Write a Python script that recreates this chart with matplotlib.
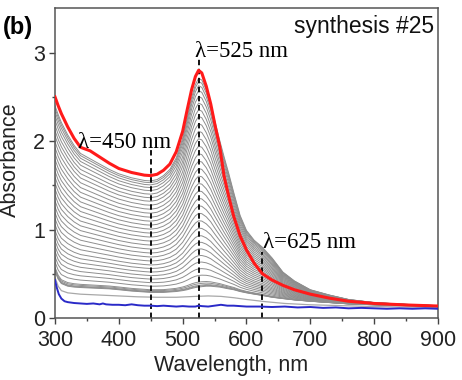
"""Absorbance spectra recorded during synthesis #25."""

from __future__ import annotations

import numpy as np
from matplotlib import pyplot as plt


# common wavelength grid (nm) for the grey family
WAVELENGTH = [
    300, 305, 310, 320, 330, 340, 355, 370, 385, 400, 420, 440, 450, 460, 470,
    480, 490, 500, 507, 514, 520, 525, 530, 537, 544, 551, 558, 565, 572, 580,
    590, 600, 612, 625, 640, 657, 675, 700, 730, 760, 800, 850, 900,
]

# final spectrum (red)
FINAL_ABS = [
    2.50, 2.40, 2.31, 2.16, 2.03, 1.93, 1.89, 1.82, 1.75, 1.69, 1.645, 1.615, 1.61,
    1.625, 1.67, 1.74, 1.88, 2.11, 2.35, 2.58, 2.73, 2.80, 2.77, 2.62, 2.42, 2.17,
    1.94, 1.60, 1.38, 1.15, 0.93, 0.77, 0.62, 0.50, 0.43, 0.37, 0.32, 0.27, 0.225,
    0.19, 0.165, 0.148, 0.136,
]

# uppermost grey spectrum (broader tail than the final one)
TOP_GREY_ABS = [
    2.40, 2.30, 2.21, 2.07, 1.95, 1.86, 1.80, 1.74, 1.68, 1.63, 1.585, 1.555, 1.55,
    1.565, 1.61, 1.68, 1.81, 2.03, 2.26, 2.49, 2.64, 2.71, 2.69, 2.58, 2.42, 2.21,
    2.01, 1.82, 1.64, 1.42, 1.16, 0.99, 0.88, 0.80, 0.68, 0.52, 0.42, 0.32, 0.26,
    0.21, 0.175, 0.155, 0.14,
]

# lowest spectrum of the dense grey family
BASE_GREY_ABS = [
    0.53, 0.44, 0.39, 0.36, 0.35, 0.345, 0.34, 0.335, 0.33, 0.32, 0.305, 0.295, 0.29,
    0.29, 0.29, 0.295, 0.30, 0.31, 0.32, 0.335, 0.345, 0.35, 0.355, 0.36, 0.36, 0.355,
    0.35, 0.34, 0.33, 0.32, 0.30, 0.285, 0.27, 0.255, 0.235, 0.22, 0.205, 0.19, 0.175,
    0.16, 0.15, 0.14, 0.13,
]

# absorbance at 450 nm of every grey spectrum, bottom to top
GREY_LEVELS_450 = [
    0.29, 0.295, 0.30, 0.31, 0.32, 0.36, 0.40, 0.44, 0.48, 0.52, 0.56, 0.60, 0.645,
    0.69, 0.735, 0.78, 0.825, 0.87, 0.915, 0.96, 1.005, 1.05, 1.095, 1.14, 1.185,
    1.23, 1.275, 1.32, 1.36, 1.40, 1.44, 1.475, 1.505, 1.53, 1.55,
]

# early light grey spectrum
LIGHT_WAVELENGTH = [300, 305, 310, 320, 340, 370, 400, 430, 460, 490, 520, 540, 560,
                    580, 600, 630, 660, 700, 750, 800, 900]
LIGHT_ABS = [0.46, 0.36, 0.31, 0.285, 0.27, 0.26, 0.25, 0.24, 0.235, 0.235, 0.245,
             0.25, 0.245, 0.23, 0.21, 0.185, 0.165, 0.15, 0.14, 0.13, 0.12]

# initial spectrum (blue)
BLUE_WAVELENGTH = [
    300, 303, 306, 310, 315, 320, 330, 340, 350, 360, 370, 375, 380, 390, 400, 410,
    420, 430, 440, 450, 460, 470, 480, 490, 500, 510, 520, 525, 530, 540, 550, 560,
    570, 580, 590, 600, 620, 640, 660, 680, 700, 720, 740, 760, 780, 800, 820, 840,
    860, 880, 900,
]
BLUE_ABS = [
    0.43, 0.34, 0.27, 0.22, 0.19, 0.18, 0.17, 0.165, 0.16, 0.165, 0.155, 0.165, 0.155,
    0.15, 0.15, 0.145, 0.155, 0.145, 0.14, 0.14, 0.135, 0.14, 0.135, 0.13, 0.135, 0.13,
    0.13, 0.14, 0.135, 0.13, 0.14, 0.15, 0.14, 0.14, 0.135, 0.13, 0.13, 0.125, 0.13,
    0.12, 0.125, 0.115, 0.12, 0.11, 0.115, 0.11, 0.105, 0.11, 0.105, 0.11, 0.105,
]

# marked wavelengths: (wavelength, dashed-line top, label x, label y)
MARKERS = [
    (450, 1.90, 336, 1.925),
    (525, 2.94, 519, 2.955),
    (625, 0.75, 626, 0.79),
]

SANS = ["Liberation Sans", "DejaVu Sans"]
SERIF = ["Liberation Serif", "DejaVu Serif"]


def main() -> None:
    plt.rcParams["font.family"] = SANS

    wl = np.asarray(WAVELENGTH, dtype=float)
    base = np.asarray(BASE_GREY_ABS, dtype=float)
    top = np.asarray(TOP_GREY_ABS, dtype=float)
    i450 = WAVELENGTH.index(450)

    fig = plt.figure(figsize=(4.62, 3.80), dpi=100)
    ax = fig.add_axes([0.119, 0.163, 0.829, 0.815])

    # grey family, each spectrum scaled between base and top by its 450 nm level
    for level in GREY_LEVELS_450:
        frac = (level - base[i450]) / (top[i450] - base[i450])
        ax.plot(wl, base + frac * (top - base), color="#8e8e8e", linewidth=0.7, zorder=1)

    ax.plot(LIGHT_WAVELENGTH, LIGHT_ABS, color="#a8a8a8", linewidth=0.9, zorder=1)

    for lam, ytop, tx, ty in MARKERS:
        ax.plot([lam, lam], [0, ytop], color="black", linewidth=1.3,
                linestyle=(0, (3, 2)), zorder=2)
        ax.text(tx, ty, f"λ={lam} nm", family=SERIF, fontsize=16.5,
                ha="left", va="baseline", zorder=4)

    ax.plot(WAVELENGTH, FINAL_ABS, color="#ff1a1a", linewidth=2.2, zorder=3)
    ax.plot(BLUE_WAVELENGTH, BLUE_ABS, color="#2a2ac8", linewidth=1.4, zorder=3)

    ax.set_xlim(300, 900)
    ax.set_ylim(0, 3.5)
    ax.set_xticks(range(300, 901, 100))
    ax.set_xticks(range(350, 900, 100), minor=True)
    ax.set_yticks([0, 1, 2, 3])
    ax.set_yticks([0.5, 1.5, 2.5], minor=True)
    ax.tick_params(which="major", length=4.5, width=1.0, labelsize=15.5, pad=2.5,
                   color="#444444", labelcolor="#222222")
    ax.tick_params(axis="x", which="major", pad=4)
    ax.tick_params(which="minor", length=2.5, width=1.0, color="#444444")
    for spine in ax.spines.values():
        spine.set_color("#555555")
        spine.set_linewidth(1.1)

    ax.set_xlabel("Wavelength, nm", fontsize=15.5, color="#222222")
    ax.xaxis.set_label_coords(0.46, -0.12)
    ax.set_ylabel("Absorbance", fontsize=15.5, color="#222222")
    ax.yaxis.set_label_coords(-0.09, 0.51)

    ax.text(0.99, 0.919, "synthesis #25", transform=ax.transAxes, fontsize=16.5,
            ha="right", va="baseline", color="#111111")
    fig.text(0.006, 0.91, "(b)", fontsize=17, fontweight="bold", ha="left",
             va="baseline")

    fig.savefig("out.png", dpi=100)


if __name__ == "__main__":
    main()
